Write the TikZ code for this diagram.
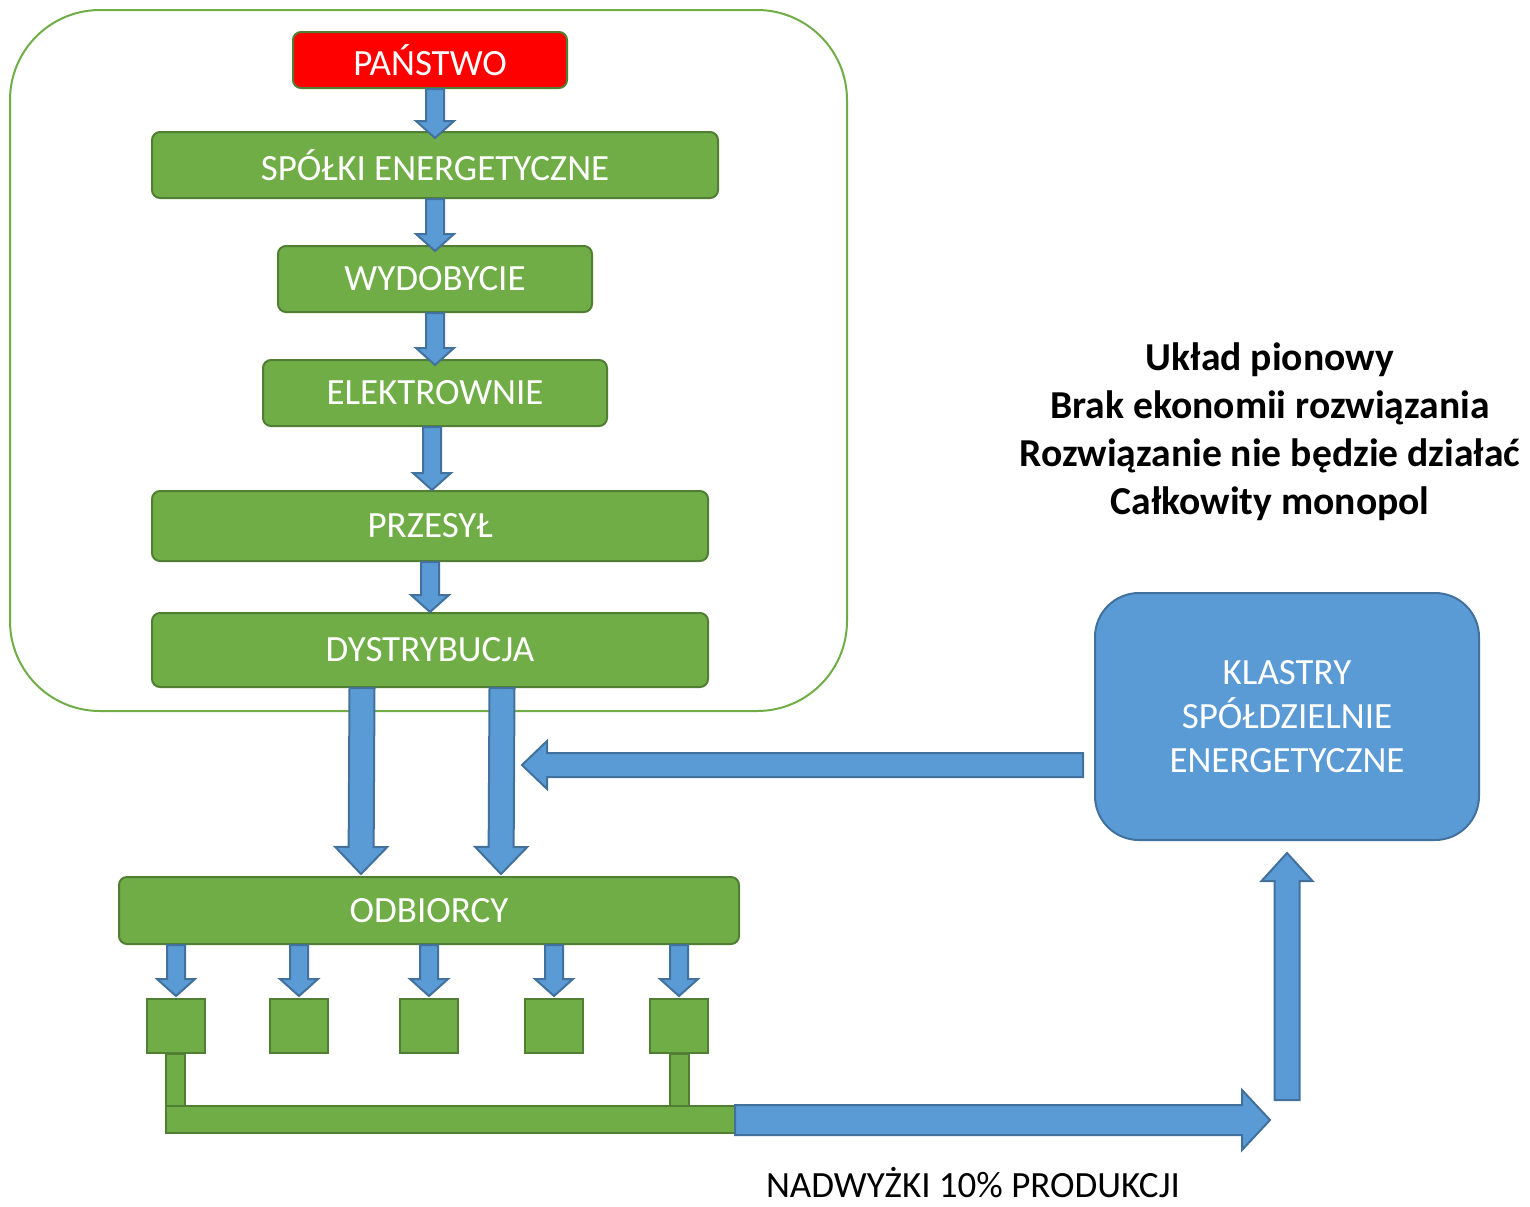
\documentclass[tikz,border=0pt]{standalone}
\usepackage{fontspec}
\setmainfont{Carlito}
\usetikzlibrary{calc}
\definecolor{leafgreen}{HTML}{70AD47}
\definecolor{leafedge}{HTML}{507E32}
\definecolor{skyblue}{HTML}{5B9BD5}
\definecolor{skyedge}{HTML}{41719C}
% block arrow: start, tip, half shaft, half head, head length
\newcommand{\flow}[5]{%
  \path[flowarrow] let \p1=#1, \p2=#2, \n1={atan2(\y2-\y1,\x2-\x1)}, \n2={veclen(\x2-\x1,\y2-\y1)} in
    [shift={(\p1)}, rotate=\n1]
    (0pt,-#3) -- ({\n2*1pt-#5},-#3) -- ({\n2*1pt-#5},-#4) -- ({\n2*1pt},0pt)
    -- ({\n2*1pt-#5},#4) -- ({\n2*1pt-#5},#3) -- (0pt,#3) -- cycle;}

\begin{document}
\begin{tikzpicture}[x=0.5pt, y=-0.5pt,
    box/.style={draw=leafedge, fill=leafgreen, line width=1pt, rounded corners=4pt,
      text=white, inner sep=0pt, font=\fontsize{18.5pt}{22pt}\selectfont},
    cell/.style={draw=leafedge, fill=leafgreen, line width=1pt, minimum width=29pt, minimum height=27pt},
    bus/.style={draw=leafedge, fill=leafgreen, line width=1pt},
    flowarrow/.style={draw=skyedge, fill=skyblue, line width=1pt, line join=miter}]
    \useasboundingbox (0,0) rectangle (1530,1206);
    % Vertical chain
    \draw[leafgreen, line width=1pt, rounded corners=45pt] (10,10) rectangle (847,711);
    \node[box, fill=red, minimum width=137pt, minimum height=28pt] (pan) at (430,60) {PAŃSTWO};
    \node[box, minimum width=283pt, minimum height=33pt] (spo) at (435,165) {SPÓŁKI ENERGETYCZNE};
    \node[box, minimum width=157pt, minimum height=33pt] (wyd) at (435,279) {WYDOBYCIE};
    \node[box, minimum width=172pt, minimum height=33pt] (ele) at (435,393) {ELEKTROWNIE};
    \node[box, minimum width=278pt, minimum height=35pt] (prz) at (430,526) {PRZESYŁ};
    \node[box, minimum width=278pt, minimum height=37pt] (dys) at (430,650) {DYSTRYBUCJA};
    \node[box, minimum width=310pt, minimum height=33.5pt] (odb) at (429,910.5) {ODBIORCY};
    % Clusters
    \node[box, draw=skyedge, fill=skyblue, rounded corners=22pt, minimum width=192pt,
      minimum height=123.5pt, align=center, font=\fontsize{18.5pt}{22pt}\selectfont]
      (kla) at (1287,716.5) {KLASTRY\\SPÓŁDZIELNIE\\ENERGETYCZNE};
    \node[align=center, font=\fontsize{19.8pt}{24pt}\selectfont\bfseries] (note) at (1270,432)
      {Układ pionowy\\Brak ekonomii rozwiązania\\Rozwiązanie nie będzie działać\\Całkowity monopol};
    \node[inner sep=0pt, font=\fontsize{18.5pt}{22pt}\selectfont] (surplus) at (973,1183) {NADWYŻKI 10\% PRODUKCJI};
    % Chain arrows
    \flow{(spo.north |- pan.south)}{($(spo.north)+(0,7)$)}{4.5pt}{9.5pt}{8.5pt}
    \flow{(spo.south)}{($(wyd.north)+(0,6)$)}{4.5pt}{9.5pt}{8.5pt}
    \flow{(wyd.south)}{($(ele.north)+(0,6)$)}{4.5pt}{9.5pt}{8.5pt}
    \flow{([xshift=-1.5pt]ele.south)}{([xshift=-1.5pt]ele.south |- prz.north)}{4.5pt}{9.5pt}{8.5pt}
    \flow{(prz.south)}{(dys.north)}{4.5pt}{9.5pt}{8.5pt}
    \flow{([xshift=-34pt]dys.south)}{([xshift=-34pt,yshift=1pt]odb.north)}{6.25pt}{13pt}{13.5pt}
    \flow{([xshift=36pt]dys.south)}{([xshift=36pt,yshift=1pt]odb.north)}{6.25pt}{13pt}{13.5pt}
    \coordinate (feed) at (522,765);
    \coordinate (pull) at ([xshift=-5.5pt]kla.west |- feed);
    \flow{(pull)}{(feed)}{6pt}{12pt}{12.5pt}
    % Consumers
    \foreach \x [count=\i] in {176,299,429,554,679} {
      \node[cell] (c\i) at (\x,1026) {};
      \flow{(c\i.north |- odb.south)}{([yshift=1pt]c\i.north)}{4.5pt}{9.5pt}{8.5pt}
    }
    \draw[bus] (c1.south -| 166,0) rectangle (185,1107);
    \draw[bus] (c5.south -| 670,0) rectangle (689,1107);
    \draw[bus] (166,1106) rectangle (735,1133);
    \coordinate (out) at (735,1120);
    \coordinate (back) at (1287,1100);
    \coordinate (hit) at (1270,1120);
    \flow{(out)}{(hit)}{7.5pt}{15pt}{14pt}
    \flow{(back)}{([yshift=-6pt]kla.south)}{6.25pt}{12.75pt}{14pt}
\end{tikzpicture}
\end{document}
